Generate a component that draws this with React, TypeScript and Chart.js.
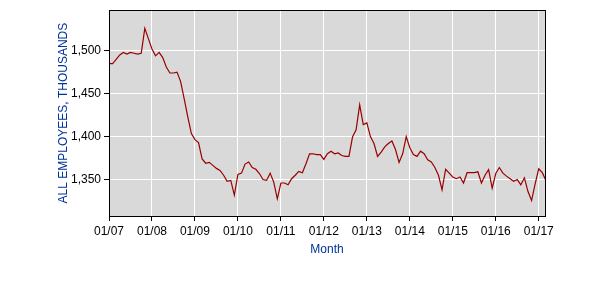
import React, { useEffect, useRef } from "react";
import { Chart, registerables } from "chart.js";

Chart.register(...registerables);

// All employees, thousands — monthly, starting January 2007
const employees: number[] = [
  1485, 1485, 1490, 1495, 1498, 1496, 1498, 1497, 1496, 1497, 1526, 1514,
  1502, 1494, 1498, 1492, 1481, 1474, 1474, 1475, 1464, 1444, 1423, 1403.5,
  1396.5, 1393, 1374, 1369, 1370, 1366.5, 1363, 1360.7, 1355, 1348, 1349, 1332,
  1356, 1357.5, 1368, 1370.5, 1364, 1362, 1357, 1350, 1349, 1357.5, 1347, 1327.6,
  1346, 1346, 1344, 1351, 1355, 1359.5, 1358, 1368.5, 1380, 1380, 1379, 1379,
  1373.5, 1380, 1383, 1380, 1381, 1378, 1377, 1377, 1399.5, 1408, 1437, 1414,
  1416, 1400, 1392, 1377, 1382, 1388, 1392, 1395, 1385, 1370, 1380, 1400,
  1387, 1379, 1377, 1383, 1380, 1373, 1370.5, 1364, 1355, 1338, 1362, 1357.5,
  1353, 1351, 1353, 1346, 1358, 1358, 1358, 1359, 1346, 1355, 1361.5, 1340,
  1357, 1364, 1357.5, 1354, 1351, 1348, 1350, 1344, 1352, 1336, 1325.6, 1345,
  1362.6, 1358, 1349,
];

const xTickMonths: number[] = [0, 12, 24, 36, 48, 60, 72, 84, 96, 108, 120];
const xTickLabels: string[] = [
  "01/07", "01/08", "01/09", "01/10", "01/11", "01/12",
  "01/13", "01/14", "01/15", "01/16", "01/17",
];
const yTickValues: number[] = [1350, 1400, 1450, 1500];

const X_MIN = 0;
const X_MAX = 121.75;
const Y_MIN = 1307.6;
const Y_MAX = 1547.1;

const FONT = "'Liberation Sans', Arial, Helvetica, sans-serif";
const BLUE = "#003399";

const plotFrame = {
  id: "plotFrame",
  beforeDraw(chart: any) {
    const { ctx, chartArea } = chart;
    ctx.save();
    ctx.fillStyle = "#d9d9d9";
    ctx.fillRect(chartArea.left, chartArea.top, chartArea.right - chartArea.left, chartArea.bottom - chartArea.top);
    ctx.restore();
  },
  afterDraw(chart: any) {
    const { ctx, chartArea } = chart;
    ctx.save();
    ctx.strokeStyle = "#000000";
    ctx.lineWidth = 1;
    const l = Math.round(chartArea.left) + 0.5;
    const t = Math.round(chartArea.top) + 0.5;
    const r = Math.round(chartArea.right) + 0.5;
    const b = Math.round(chartArea.bottom) + 0.5;
    ctx.strokeRect(l, t, r - l, b - t);
    ctx.restore();
  },
};

export default function App() {
  const canvasRef = useRef<HTMLCanvasElement | null>(null);

  useEffect(() => {
    if (!canvasRef.current) return;
    const chart = new Chart(canvasRef.current, {
      type: "line",
      data: {
        datasets: [
          {
            data: employees.map((v, i) => ({ x: i, y: v })),
            borderColor: "#990000",
            borderWidth: 1.2,
            pointRadius: 0,
            tension: 0,
            fill: false,
          },
        ],
      },
      options: {
        animation: false,
        responsive: false,
        maintainAspectRatio: false,
        layout: { padding: { left: 52, right: 55, top: 10, bottom: 39 } },
        plugins: {
          legend: { display: false },
          tooltip: { enabled: false },
        },
        scales: {
          x: {
            type: "linear",
            min: X_MIN,
            max: X_MAX,
            afterBuildTicks: (scale: any) => {
              scale.ticks = xTickMonths.map((v) => ({ value: v }));
            },
            afterFit: (scale: any) => {
              scale.height = 45;
            },
            ticks: {
              autoSkip: false,
              maxRotation: 0,
              padding: 3,
              color: "#000000",
              font: { family: FONT, size: 12 },
              callback: (value: any) => {
                const idx = xTickMonths.indexOf(Number(value));
                return idx >= 0 ? xTickLabels[idx] : "";
              },
            },
            grid: {
              color: "#ffffff",
              lineWidth: 1,
              drawTicks: true,
              tickLength: 5,
              tickColor: "#000000",
            },
            border: { display: false },
            title: {
              display: true,
              text: "Month",
              color: BLUE,
              font: { family: FONT, size: 12 },
              padding: { top: 4, bottom: 4 },
            },
          },
          y: {
            type: "linear",
            min: Y_MIN,
            max: Y_MAX,
            afterBuildTicks: (scale: any) => {
              scale.ticks = yTickValues.map((v) => ({ value: v }));
            },
            afterFit: (scale: any) => {
              scale.width = 57;
            },
            ticks: {
              padding: 3,
              color: "#000000",
              font: { family: FONT, size: 12 },
              callback: (value: any) => Number(value).toLocaleString("en-US"),
            },
            grid: {
              color: "#ffffff",
              lineWidth: 1,
              drawTicks: true,
              tickLength: 5,
              tickColor: "#000000",
            },
            border: { display: false },
            title: {
              display: true,
              text: "ALL EMPLOYEES, THOUSANDS",
              color: BLUE,
              font: { family: FONT, size: 12 },
              padding: { top: 4, bottom: 4 },
            },
          },
        },
      },
      plugins: [plotFrame],
    });
    return () => chart.destroy();
  }, []);

  return (
    <div style={{ position: "absolute", left: 0, top: 0, width: 600, height: 300, background: "#ffffff" }}>
      <canvas ref={canvasRef} width={600} height={300} style={{ display: "block" }} />
    </div>
  );
}
